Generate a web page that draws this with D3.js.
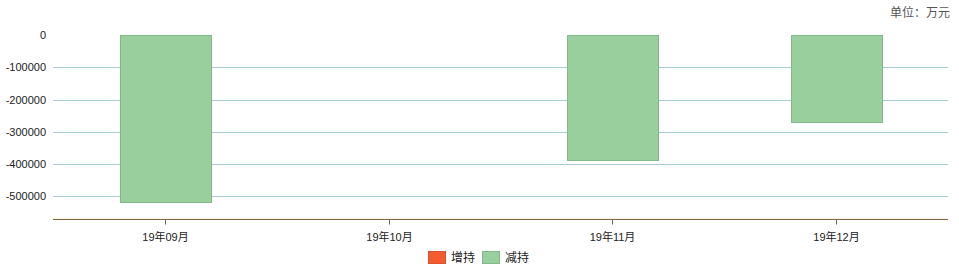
<!DOCTYPE html>
<html>
<head>
<meta charset="utf-8">
<script src="https://cdn.jsdelivr.net/npm/d3@7"></script>
<style>
    body { margin: 0; background: #fff; }
    text { font-family: "Liberation Sans", "Noto Sans CJK SC", sans-serif; }
</style>
</head>
<body>
<div id="chart"></div>
<script>
// chart data
const months = ["19年09月", "19年10月", "19年11月", "19年12月"];
const increase = [0, 0, 0, 0];
const decrease = [-517000, 0, -386000, -270000];
const yTicks = [0, -100000, -200000, -300000, -400000, -500000];
const seriesNames = ["增持", "减持"];
const seriesColors = ["#f45b2f", "#98cf9c"];

const width = 959, height = 278;
const margin = {top: 35, right: 11, bottom: 59, left: 53};

const svg = d3.select("#chart").append("svg")
    .attr("width", width)
    .attr("height", height);

// scales
let x = d3.scaleBand()
    .domain(months)
    .range([margin.left, width - margin.right]);

let y = d3.scaleLinear()
    .domain([-570000, 0])
    .range([height - margin.bottom, margin.top]);

// unit label
svg.append("text")
    .attr("x", 950)
    .attr("y", 17)
    .attr("text-anchor", "end")
    .attr("font-size", 12)
    .style("font-family", "'Noto Sans CJK SC', sans-serif")
    .attr("fill", "#555")
    .text("单位：万元");

// grid lines (no line at zero)
svg.append("g")
    .selectAll("line")
    .data(yTicks.filter(d => d !== 0))
    .enter()
    .append("line")
    .attr("x1", margin.left)
    .attr("x2", width - margin.right)
    .attr("y1", d => Math.round(y(d)) + 0.5)
    .attr("y2", d => Math.round(y(d)) + 0.5)
    .attr("stroke", "#a9cbd2")
    .attr("stroke-width", 1);

// y labels
svg.append("g")
    .selectAll("text")
    .data(yTicks)
    .enter()
    .append("text")
    .attr("x", 46)
    .attr("y", d => y(d) + 4)
    .attr("text-anchor", "end")
    .attr("font-size", 11)
    .attr("fill", "#222")
    .text(d => d);

// bars: increase stacked over decrease, centred in each band
let barW = x.bandwidth() * 0.405;
let rows = months.map((m, i) => ({month: m, inc: increase[i], dec: decrease[i]}));

svg.append("g")
    .selectAll("rect.dec")
    .data(rows.filter(d => d.dec !== 0))
    .enter()
    .append("rect")
    .attr("class", "dec")
    .attr("x", d => Math.round(x(d.month) + (x.bandwidth() - barW) / 2) + 0.5)
    .attr("y", d => Math.round(y(0)) + 0.5)
    .attr("width", Math.round(barW))
    .attr("height", d => Math.round(y(d.dec) - y(0)))
    .attr("fill", seriesColors[1])
    .attr("stroke", "#82b98a")
    .attr("stroke-width", 1);

svg.append("g")
    .selectAll("rect.inc")
    .data(rows.filter(d => d.inc !== 0))
    .enter()
    .append("rect")
    .attr("class", "inc")
    .attr("x", d => x(d.month) + (x.bandwidth() - barW) / 2)
    .attr("y", d => y(d.inc))
    .attr("width", barW)
    .attr("height", d => y(0) - y(d.inc))
    .attr("fill", seriesColors[0]);

// x axis line
let axisY = Math.round(y.range()[0]) + 0.5;
svg.append("line")
    .attr("x1", margin.left)
    .attr("x2", width - margin.right)
    .attr("y1", axisY - 1)
    .attr("y2", axisY - 1)
    .attr("stroke", "#fbf6e6");
svg.append("line")
    .attr("x1", margin.left)
    .attr("x2", width - margin.right)
    .attr("y1", axisY)
    .attr("y2", axisY)
    .attr("stroke", "#7d6a45");

// ticks and labels
let xt = svg.append("g")
    .selectAll("g")
    .data(months)
    .enter()
    .append("g")
    .attr("transform", d => `translate(${Math.round(x(d) + x.bandwidth() / 2) + 0.5},0)`);

xt.append("line")
    .attr("y1", axisY)
    .attr("y2", axisY + 5)
    .attr("stroke", "#666");

xt.append("text")
    .attr("y", axisY + 21)
    .attr("text-anchor", "middle")
    .attr("font-size", 11)
    .attr("fill", "#222")
    .text(d => d);

// legend
let legend = svg.append("g")
    .selectAll("g")
    .data(seriesNames)
    .enter()
    .append("g")
    .attr("transform", (d, i) => `translate(${428 + i * 54},251)`);

legend.append("rect")
    .attr("x", 0.5)
    .attr("y", 0.5)
    .attr("width", 17)
    .attr("height", 12)
    .attr("fill", (d, i) => seriesColors[i])
    .attr("stroke", (d, i) => i === 0 ? "#d9542e" : "#82b98a");

legend.append("text")
    .attr("x", 23)
    .attr("y", 11)
    .attr("font-size", 12)
    .attr("fill", "#222")
    .style("font-family", "'Noto Sans CJK SC', sans-serif")
    .text(d => d);
</script>
</body>
</html>
